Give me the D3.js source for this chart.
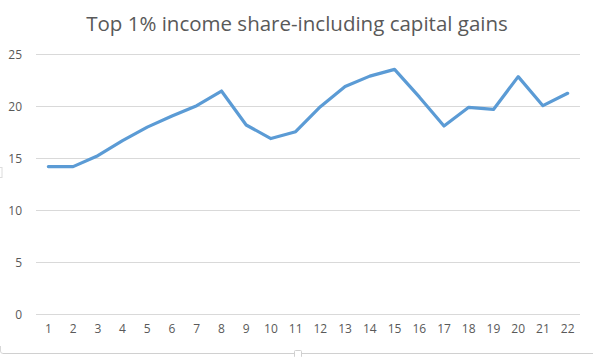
<!DOCTYPE html>
<html><head><meta charset="utf-8">
<script src="https://cdn.jsdelivr.net/npm/d3@7"></script>
<style>body{margin:0;background:#fff}svg{display:block}</style>
</head><body>
<svg id="c" width="593" height="357"></svg>
<script>
const title = "Top 1% income share-including capital gains";
const categories = ["1","2","3","4","5","6","7","8","9","10","11","12","13","14","15","16","17","18","19","20","21","22"];
const values = [14.2,14.2,15.25,16.7,18.0,19.07,20.06,21.47,18.2,16.9,17.56,19.96,21.9,22.9,23.55,20.9,18.1,19.9,19.7,22.85,20.06,21.25];
const yTicks = [0,5,10,15,20,25];

(function(){
const svg = d3.select("#c");
const pLeft = 36, pRight = 580, pTop = 54.3, pBottom = 314.3;
const x = d3.scaleBand().domain(categories).range([pLeft, pRight]);
const y = d3.scaleLinear().domain([0,25]).range([pBottom, pTop]);
const font = "'Open Sans', 'Liberation Sans', sans-serif";

// chart frame edge and selection handles
svg.append("line").attr("x1",3).attr("x2",593).attr("y1",353.5).attr("y2",353.5)
  .attr("stroke","#d0d0d0").attr("stroke-width",1);
svg.append("path").attr("d","M0.5,346 L0.5,351 Q0.5,353.5 3,353.5")
  .attr("fill","none").attr("stroke","#d8d8d8");
svg.append("rect").attr("x",-3).attr("y",167.5).attr("width",5).attr("height",10)
  .attr("fill","#fff").attr("stroke","#dcdcdc");
svg.append("rect").attr("x",294.5).attr("y",350.5).attr("width",7).attr("height",7).attr("rx",1)
  .attr("fill","#fff").attr("stroke","#d0d0d0");

// gridlines
svg.append("g").selectAll("line").data(yTicks).join("line")
  .attr("x1",pLeft).attr("x2",pRight)
  .attr("y1",d=>Math.round(y(d))+0.5).attr("y2",d=>Math.round(y(d))+0.5)
  .attr("stroke","#d9d9d9").attr("stroke-width",1);

// y axis labels
const yAxis = d3.axisLeft(y).tickValues(yTicks).tickSize(0).tickPadding(0);
const gy = svg.append("g").attr("transform",`translate(22,0)`).call(yAxis);
gy.select(".domain").remove();
gy.selectAll("text").attr("fill","#595959").attr("font-size","12px").attr("font-family",font);

// x axis labels
const xAxis = d3.axisBottom(x).tickSize(0).tickPadding(0);
const gx = svg.append("g").attr("transform",`translate(0,${pBottom+10})`).call(xAxis);
gx.select(".domain").remove();
gx.selectAll("text").attr("fill","#595959").attr("font-size","12px").attr("font-family",font);

// line
const line = d3.line().x((d,i)=>x(categories[i])+x.bandwidth()/2).y(d=>y(d));
svg.append("path").datum(values).attr("d",line)
  .attr("fill","none").attr("stroke","#5B9BD5").attr("stroke-width",3.2)
  .attr("stroke-linejoin","round").attr("stroke-linecap","round");

// title
svg.append("text").attr("x",297).attr("y",31).attr("text-anchor","middle")
  .attr("fill","#595959").attr("font-size","20.5px").attr("font-family",font)
  .text(title);
})();
</script>
</body></html>
